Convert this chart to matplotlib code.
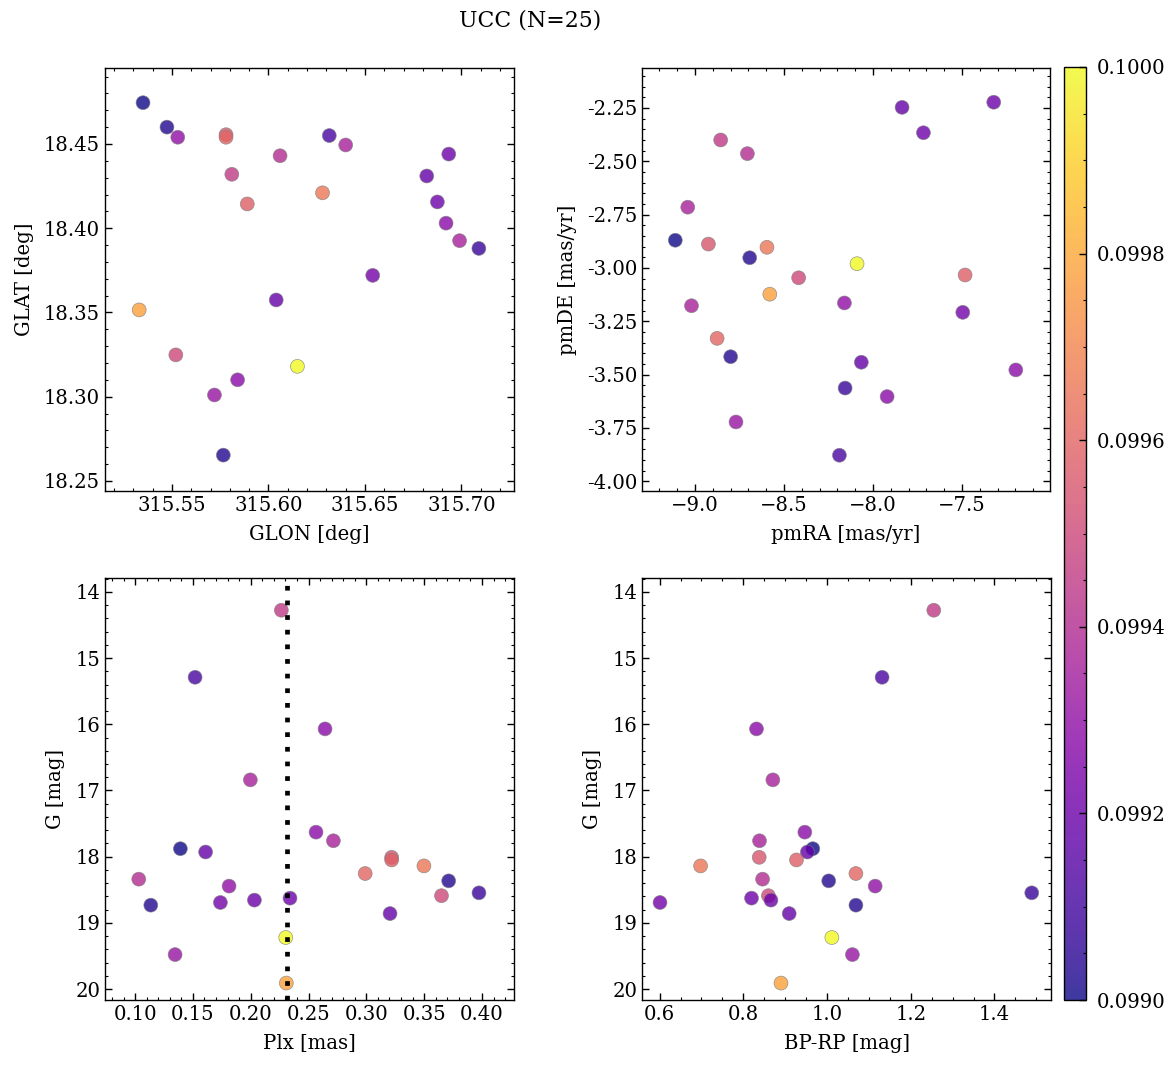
import numpy as np
import matplotlib
matplotlib.use('Agg')
import matplotlib.pyplot as plt
from matplotlib.ticker import AutoMinorLocator, FormatStrFormatter, MultipleLocator

# member stars (same order in every array)
glon = [315.581, 315.6315, 315.692, 315.640, 315.584, 315.699, 315.535, 315.682, 315.578, 315.589,
        315.628, 315.578, 315.606, 315.5474, 315.553, 315.709, 315.552, 315.6934, 315.6875, 315.654,
        315.5766, 315.604, 315.615, 315.572, 315.533]
glat = [18.432, 18.455, 18.403, 18.4494, 18.310, 18.3926, 18.4745, 18.431, 18.4555, 18.4144,
        18.421, 18.454, 18.443, 18.460, 18.454, 18.388, 18.3248, 18.444, 18.4156, 18.372,
        18.2653, 18.3574, 18.318, 18.301, 18.3515]
pmra = [-8.856, -8.189, -7.198, -9.041, -7.921, -9.02, -9.111, -7.837, -8.925, -7.483,
        -8.596, -8.876, -8.706, -8.693, -8.161, -8.157, -8.418, -7.322, -7.717, -7.496,
        -8.80, -8.066, -8.09, -8.77, -8.58]
pmde = [-2.40, -3.878, -3.478, -2.715, -3.603, -3.177, -2.87, -2.247, -2.888, -3.033,
        -2.903, -3.33, -2.464, -2.952, -3.164, -3.563, -3.046, -2.223, -2.366, -3.208,
        -3.416, -3.442, -2.98, -3.722, -3.123]
plx = [0.2265, 0.1519, 0.2643, 0.1997, 0.2565, 0.2715, 0.1392, 0.161, 0.3219, 0.3219,
       0.3498, 0.299, 0.1032, 0.3712, 0.1813, 0.3974, 0.365, 0.234, 0.2032, 0.1738,
       0.1136, 0.3205, 0.2303, 0.1346, 0.2308]
gmag = [14.277, 15.29, 16.07, 16.84, 17.63, 17.76, 17.88, 17.93, 18.01, 18.05,
        18.14, 18.255, 18.34, 18.366, 18.445, 18.547, 18.59, 18.627, 18.657, 18.693,
        18.733, 18.86, 19.222, 19.48, 19.91]
bprp = [1.255, 1.1315, 0.8315, 0.8706, 0.947, 0.8387, 0.966, 0.953, 0.838, 0.927,
        0.698, 1.069, 0.846, 1.004, 1.115, 1.489, 0.86, 0.8196, 0.866, 0.601,
        1.069, 0.9096, 1.0115, 1.0606, 0.890]
prob = [0.09945, 0.09912, 0.09928, 0.09936, 0.09928, 0.09936, 0.09900, 0.09918, 0.09955, 0.09958,
        0.09966, 0.09960, 0.09940, 0.09903, 0.09930, 0.09908, 0.09950, 0.09920, 0.09920, 0.09922,
        0.09903, 0.09918, 0.10000, 0.09932, 0.09978]
plx_line = 0.2312

plt.rcParams['font.family'] = 'serif'
plt.rcParams['font.serif'] = ['DejaVu Serif']
plt.rcParams['font.size'] = 14.1
plt.rcParams['axes.linewidth'] = 1.0
plt.rcParams['axes.labelpad'] = 7

fig = plt.figure(figsize=(11.73, 10.67), dpi=100)
W, H = 1173., 1067.

def add_ax(x0, y0, x1, y1):
    return fig.add_axes([x0 / W, 1 - y1 / H, (x1 - x0) / W, (y1 - y0) / H])

ax1 = add_ax(105, 68, 514, 491)
ax2 = add_ax(642, 68, 1050, 491)
ax3 = add_ax(105, 578, 514, 1000)
ax4 = add_ax(642, 578, 1051, 1000)
cax = add_ax(1064, 67, 1086, 1000)

kw = dict(c=prob, cmap='plasma', vmin=0.099, vmax=0.1, s=100, alpha=0.8,
          edgecolors='grey', linewidths=0.5)

sc = ax1.scatter(glon, glat, **kw)
ax1.set_xlim(315.5153, 315.7272)
ax1.set_ylim(18.244, 18.4951)
ax1.xaxis.set_major_locator(MultipleLocator(0.05))
ax1.yaxis.set_major_locator(MultipleLocator(0.05))
ax1.xaxis.set_major_formatter(FormatStrFormatter('%.2f'))
ax1.yaxis.set_major_formatter(FormatStrFormatter('%.2f'))
ax1.set_xlabel('GLON [deg]')
ax1.set_ylabel('GLAT [deg]')

ax2.scatter(pmra, pmde, **kw)
ax2.set_xlim(-9.298, -7.006)
ax2.set_ylim(-4.0456, -2.0625)
ax2.xaxis.set_major_locator(MultipleLocator(0.5))
ax2.yaxis.set_major_locator(MultipleLocator(0.25))
ax2.yaxis.set_major_formatter(FormatStrFormatter('%.2f'))
ax2.set_xlabel('pmRA [mas/yr]')
ax2.set_ylabel('pmDE [mas/yr]')

ax3.scatter(plx, gmag, **kw)
ax3.axvline(plx_line, color='k', lw=3.4, ls=(0, (1, 2.1)), dash_capstyle='butt')
ax3.set_xlim(0.074, 0.4277)
ax3.set_ylim(20.166, 13.79)
ax3.xaxis.set_major_locator(MultipleLocator(0.05))
ax3.xaxis.set_major_formatter(FormatStrFormatter('%.2f'))
ax3.yaxis.set_major_locator(MultipleLocator(1))
ax3.set_xlabel('Plx [mas]')
ax3.set_ylabel('G [mag]')

ax4.scatter(bprp, gmag, **kw)
ax4.set_xlim(0.558, 1.535)
ax4.set_ylim(20.166, 13.79)
ax4.xaxis.set_major_locator(MultipleLocator(0.2))
ax4.yaxis.set_major_locator(MultipleLocator(1))
ax4.set_xlabel('BP-RP [mag]')
ax4.set_ylabel('G [mag]')

for ax in (ax1, ax2, ax3, ax4):
    ax.xaxis.set_minor_locator(AutoMinorLocator())
    ax.yaxis.set_minor_locator(AutoMinorLocator())
    ax.tick_params(which='both', direction='in', top=True, right=True)
    ax.tick_params(which='major', length=4.8, width=1.0)
    ax.tick_params(which='minor', length=2.4, width=0.8)

cb = fig.colorbar(sc, cax=cax)
cb.set_ticks([0.0990, 0.0992, 0.0994, 0.0996, 0.0998, 0.1000])
cb.ax.yaxis.set_major_formatter(FormatStrFormatter('%.4f'))
cb.ax.yaxis.set_minor_locator(AutoMinorLocator())
cb.ax.tick_params(which='both', direction='in', pad=8)
cb.ax.tick_params(which='major', length=4.8, width=1.0)
cb.ax.tick_params(which='minor', length=2.4, width=0.8)
cb.outline.set_linewidth(1.0)

fig.suptitle('UCC (N=25)', x=530 / W, y=1 - 20 / H, va='center', fontsize=15.8)

fig.savefig('out.png', dpi=100)
